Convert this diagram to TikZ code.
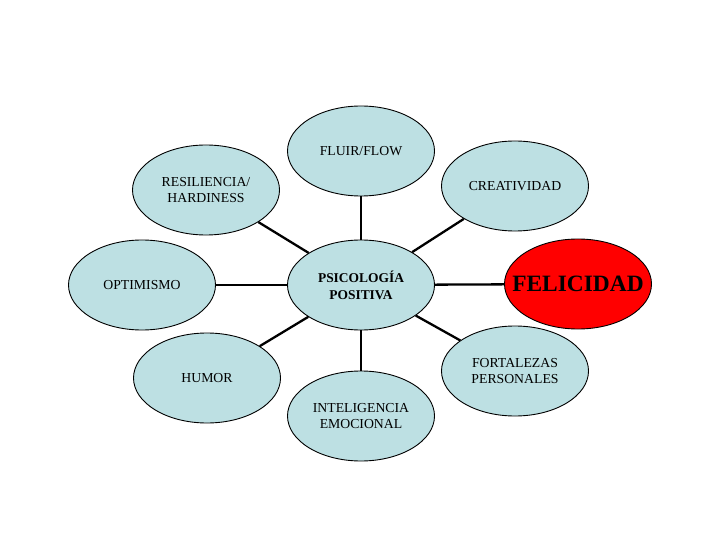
\documentclass[tikz,border=0pt]{standalone}
\usepackage{fontspec}
\setmainfont{Liberation Serif}
\usetikzlibrary{shapes.geometric}
\definecolor{lightcyan}{HTML}{BDE0E3}
\definecolor{felred}{HTML}{FF0000}
\tikzset{
  bubble/.style={ellipse, draw=black, line width=0.9bp, fill=lightcyan,
    minimum width=147bp, minimum height=90bp, inner sep=0pt, align=center,
    font=\fontsize{13.8}{17}\selectfont},
  redbubble/.style={bubble, fill=felred, inner xsep=-16bp, font=\fontsize{23.5}{28}\selectfont\bfseries},
  spoke/.style={draw=black, line width=2.3bp}
}
\begin{document}
\begin{tikzpicture}[x=1bp,y=-1bp]
\useasboundingbox[fill=white] (0,0) rectangle (720,540);
\node[bubble, font=\fontsize{13.5}{17}\selectfont\bfseries] (c) at (361,285) {PSICOLOGÍA\\POSITIVA};
\node[bubble] (flow) at (361,151) {FLUIR/FLOW};
\node[bubble] (crea) at (515,186) {CREATIVIDAD};
\node[bubble] (resi) at (206,190) {RESILIENCIA/\\HARDINESS};
\node[bubble] (opti) at (142,285) {OPTIMISMO};
\node[redbubble] (feli) at (578,284) {FELICIDAD};
\node[bubble] (humor) at (207,378) {HUMOR};
\node[bubble] (inte) at (361,416) {INTELIGENCIA\\EMOCIONAL};
\node[bubble] (fort) at (515,371) {FORTALEZAS\\PERSONALES};
\foreach \n in {flow,crea,resi,opti,feli,humor,inte,fort}
  \draw[spoke] (c) -- (\n);
\end{tikzpicture}
\end{document}
